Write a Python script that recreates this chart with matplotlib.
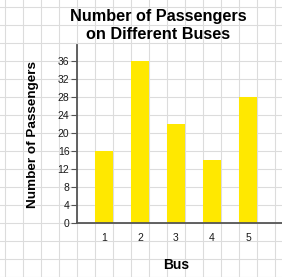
import matplotlib
matplotlib.use("Agg")
import matplotlib.pyplot as plt
import numpy as np

buses = [1, 2, 3, 4, 5]
passengers = [16, 36, 22, 14, 28]
yticks = list(range(0, 37, 4))

plt.rcParams['font.family'] = ['Liberation Sans', 'DejaVu Sans']

W, H = 282, 277
fig = plt.figure(figsize=(W / 100, H / 100), dpi=100)

# background graph-paper grid (pixel coordinates, y from top)
bg = fig.add_axes([0, 0, 1, 1], zorder=0)
bg.set_xlim(0, W)
bg.set_ylim(H, 0)
bg.axis('off')
for x in np.arange(5, W, 18):
    bg.axvline(x, color='#dcdcdc', lw=0.8)
for y in np.arange(7, H + 1, 18):
    bg.axhline(y, color='#dcdcdc', lw=0.8)

ax = fig.add_axes([77 / W, 54 / H, 205 / W, 178 / H], zorder=1)
ax.patch.set_alpha(0)
ax.bar(buses, passengers, width=0.5, color='#ffe800', zorder=2)
ax.set_xlim(0.25, 0.25 + 205 / 36)
ax.set_ylim(0, 178 / 4.5)
ax.set_yticks(yticks)
ax.set_xticks(buses)
for s in ['top', 'right']:
    ax.spines[s].set_visible(False)
for s in ['left', 'bottom']:
    ax.spines[s].set_color('#555555')
    ax.spines[s].set_linewidth(1.3)
ax.tick_params(axis='y', length=4, width=0.8, color='#555555', labelsize=7.5, labelcolor='#1a1a1a', pad=1.5)
ax.tick_params(axis='x', length=0, labelsize=7.5, labelcolor='#1a1a1a', pad=7)

fig.text(158 / W, 1 - 25.5 / H, 'Number of Passengers\non Different Buses', ha='center', va='center',
         fontsize=11.7, fontweight='bold', linespacing=1.3)
fig.text(33 / W, 1 - 134 / H, 'Number of Passengers', rotation=90, ha='center', va='center',
         fontsize=9.7, fontweight='bold')
fig.text(176 / W, 1 - 265 / H, 'Bus', ha='center', va='center', fontsize=9.9, fontweight='bold')

fig.savefig('out.png', dpi=100)
